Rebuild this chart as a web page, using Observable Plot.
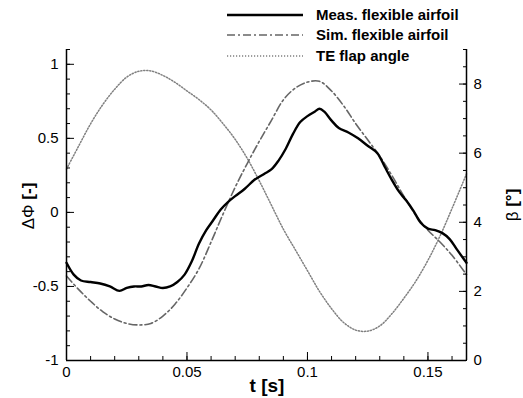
<!DOCTYPE html>
<html><head><meta charset="utf-8">
<script src="https://cdn.jsdelivr.net/npm/d3@7"></script>
<script src="https://cdn.jsdelivr.net/npm/@observablehq/plot@0.6"></script>
<style>
body{margin:0;background:#fff;font-family:"Liberation Sans",Arial,sans-serif;}
#wrap{position:relative;width:523px;height:398px;}
#legend{position:absolute;left:0;top:0;}
</style></head>
<body><div id="wrap"><div id="chart"></div><svg id="legend" width="523" height="70"></svg></div>
<script>
// TE flap angle β [°] (right axis)
const flapT = [0,0.005,0.01,0.015,0.02,0.025,0.03,0.035,0.04,0.045,0.05,0.055,0.06,0.065,0.07,0.075,0.08,0.085,0.09,0.095,0.1,0.105,0.11,0.115,0.12,0.125,0.13,0.135,0.14,0.145,0.15,0.155,0.16,0.166];
const flapB = [5.54,6.2,6.85,7.4,7.85,8.2,8.37,8.38,8.25,8.05,7.8,7.55,7.25,6.85,6.4,5.85,5.2,4.5,3.8,3.2,2.6,2.0,1.5,1.1,0.88,0.85,1.0,1.35,1.8,2.3,2.9,3.6,4.4,5.4];
// Sim. flexible airfoil ΔΦ
const simT = [0,0.005,0.01,0.015,0.02,0.025,0.03,0.035,0.04,0.045,0.05,0.055,0.06,0.065,0.07,0.075,0.08,0.085,0.09,0.095,0.1,0.105,0.11,0.115,0.12,0.125,0.13,0.135,0.14,0.145,0.15,0.155,0.16,0.166];
const simV = [-0.43,-0.52,-0.6,-0.67,-0.72,-0.75,-0.76,-0.75,-0.7,-0.62,-0.51,-0.38,-0.2,-0.01,0.17,0.33,0.48,0.62,0.76,0.84,0.88,0.885,0.82,0.72,0.6,0.49,0.38,0.25,0.11,-0.02,-0.12,-0.2,-0.29,-0.42];
// Meas. flexible airfoil ΔΦ
const measT = [0,0.003,0.006,0.01,0.014,0.018,0.022,0.025,0.028,0.031,0.034,0.037,0.04,0.043,0.046,0.049,0.052,0.055,0.058,0.061,0.064,0.067,0.07,0.074,0.078,0.082,0.085,0.088,0.091,0.094,0.097,0.1,0.103,0.105,0.107,0.11,0.113,0.117,0.121,0.125,0.129,0.132,0.135,0.138,0.141,0.144,0.147,0.15,0.153,0.156,0.159,0.162,0.166];
const measV = [-0.34,-0.42,-0.46,-0.47,-0.48,-0.5,-0.53,-0.51,-0.5,-0.5,-0.49,-0.5,-0.51,-0.5,-0.47,-0.42,-0.33,-0.21,-0.12,-0.05,0.02,0.07,0.11,0.16,0.22,0.26,0.29,0.35,0.43,0.53,0.61,0.65,0.68,0.7,0.68,0.62,0.57,0.54,0.5,0.45,0.4,0.31,0.22,0.14,0.08,0.01,-0.07,-0.11,-0.12,-0.14,-0.18,-0.25,-0.34];

const xTicks = [0,0.05,0.1,0.15];
const yTicks = [-1,-0.5,0,0.5,1];
const bTicks = [0,2,4,6,8];
const xDomain = [0,0.166];
const yDomain = [-1,1.1];
const bDomain = [0,9];

const b2y = b => yDomain[0] + (b - bDomain[0]) * (yDomain[1]-yDomain[0])/(bDomain[1]-bDomain[0]);
const y2b = y => bDomain[0] + (y - yDomain[0]) * (bDomain[1]-bDomain[0])/(yDomain[1]-yDomain[0]);

const flap = flapT.map((t,i)=>({t, v:b2y(flapB[i])}));
const sim = simT.map((t,i)=>({t, v:simV[i]}));
const meas = measT.map((t,i)=>({t, v:measV[i]}));

const xMinor = d3.range(0,0.1661,0.01).map(v=>+v.toFixed(3));
const yMinor = d3.range(-1,1.1001,0.1).map(v=>+v.toFixed(2));
const bMinor = d3.range(0,9.001,0.5).map(v=>b2y(v));

const plot = Plot.plot({
  width:523, height:398,
  marginLeft:66, marginRight:57, marginTop:49, marginBottom:38,
  style:{fontFamily:"'Liberation Sans',Arial,sans-serif", fontSize:"15px", color:"#000", background:"#fff"},
  x:{domain:xDomain, label:null}, y:{domain:yDomain, label:null},
  marks:[
    Plot.line(flap,{x:"t",y:"v",stroke:"#808080",strokeWidth:1.5,strokeDasharray:"1.2,1.8",curve:"catmull-rom"}),
    Plot.line(sim,{x:"t",y:"v",stroke:"#666",strokeWidth:1.6,strokeDasharray:"8,3,2,3",curve:"catmull-rom"}),
    Plot.line(meas,{x:"t",y:"v",stroke:"#000",strokeWidth:2.4,curve:"catmull-rom"}),
    // frame
    Plot.ruleX(xDomain,{stroke:"#000",strokeWidth:1.5}),
    Plot.ruleY([yDomain[0]],{stroke:"#000",strokeWidth:1.5}),
    // inward ticks
    Plot.axisX({ticks:xTicks,tickSize:-8,text:null,stroke:"#000",label:null}),
    Plot.axisX({ticks:xMinor,tickSize:-4,text:null,stroke:"#000",label:null}),
    Plot.axisX({ticks:xTicks,tickSize:0,tickPadding:6,tickFormat:d=>String(d),fontSize:15,label:null}),
    Plot.axisY({ticks:yTicks,tickSize:-8,text:null,anchor:"left",stroke:"#000",label:null}),
    Plot.axisY({ticks:yMinor,tickSize:-4,text:null,anchor:"left",stroke:"#000",label:null}),
    Plot.axisY({ticks:yTicks,tickSize:0,tickPadding:8,anchor:"left",tickFormat:d=>String(d),fontSize:15,label:null}),
    Plot.axisY({ticks:bTicks.map(b2y),tickSize:-8,text:null,anchor:"right",stroke:"#000",label:null}),
    Plot.axisY({ticks:bMinor,tickSize:-4,text:null,anchor:"right",stroke:"#000",label:null}),
    Plot.axisY({ticks:bTicks.map(b2y),tickSize:0,tickPadding:7,anchor:"right",tickFormat:d=>String(Math.round(y2b(d))),fontSize:15,label:null})
  ]
});
document.getElementById("chart").appendChild(plot);

// axis titles
const svg = d3.select(plot);
svg.append("text").attr("x",267).attr("y",392).attr("text-anchor","middle")
  .style("font-weight","bold").style("font-size","19px").text("t [s]");
const yl = svg.append("text").attr("transform","translate(34,206) rotate(-90)").attr("text-anchor","middle").style("font-size","17px");
yl.append("tspan").text("ΔΦ ");
yl.append("tspan").style("font-weight","bold").text("[-]");
const bl = svg.append("text").attr("transform","translate(518,205) rotate(-90)").attr("text-anchor","middle").style("font-size","17px");
bl.append("tspan").text("β ");
bl.append("tspan").style("font-weight","bold").text("[°]");

// legend
const legendLabels = ["Meas. flexible airfoil","Sim. flexible airfoil","TE flap angle"];
const legendStyles = [
  {stroke:"#000",w:2.4,dash:null},
  {stroke:"#666",w:1.6,dash:"8,3,2,3"},
  {stroke:"#808080",w:1.5,dash:"1.2,1.8"}
];
const lg = d3.select("#legend");
const rowsY = [15,35,56];
legendLabels.forEach((lab,i)=>{
  const s = legendStyles[i];
  lg.append("line").attr("x1",227).attr("x2",303).attr("y1",rowsY[i]).attr("y2",rowsY[i])
    .attr("stroke",s.stroke).attr("stroke-width",s.w).attr("stroke-dasharray",s.dash);
  lg.append("text").attr("x",316).attr("y",rowsY[i]+5).style("font-weight","bold")
    .style("font-size","15px").style("font-family","'Liberation Sans',Arial,sans-serif").text(lab);
});
</script></body></html>
